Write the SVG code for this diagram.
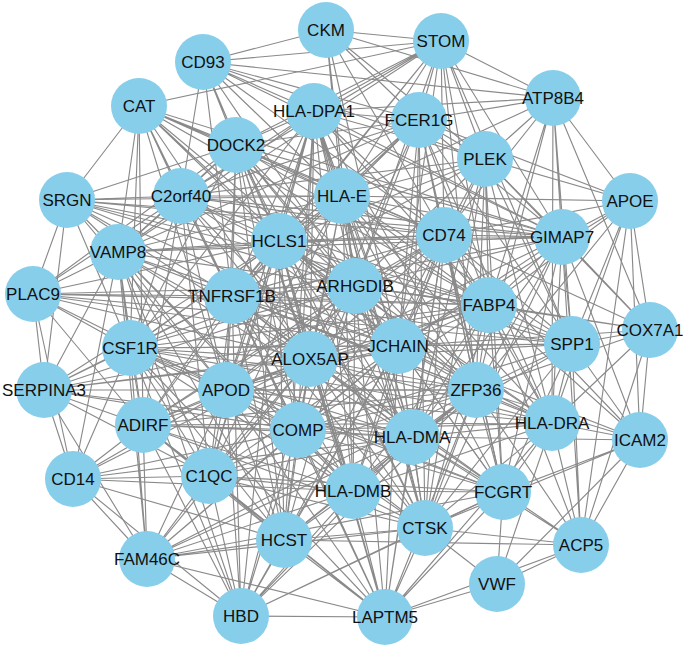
<svg xmlns="http://www.w3.org/2000/svg" width="683" height="647" viewBox="0 0 683 647">
<style>
.edges path{stroke:#8a8a8a;stroke-width:1.15;fill:none}
.node circle{fill:#87CEEB;stroke:none}
.node text{font-family:"Liberation Sans",Arial,sans-serif;font-size:17px;fill:#111;text-anchor:middle}
</style>
<rect width="683" height="647" fill="#fff"/>
<g id="connectors" class="edges">
<path d="M326 30L203 62M326 30L441 41M326 30L553 98M326 30L419 120M326 30L342 196M326 30L355 286M326 30L444 235M326 30L485 159M326 30L398 346"/>
<path d="M441 41L139 106M441 41L203 62M441 41L553 98M441 41L419 120M441 41L485 159M441 41L236 145M441 41L279 241M441 41L181 196M441 41L342 196M441 41L232 296M441 41L118 252M441 41L444 235M441 41L489 305M441 41L398 346M441 41L562 237M441 41L476 390M441 41L314 111M441 41L355 286M441 41L572 344"/>
<path d="M203 62L314 111M203 62L419 120M203 62L553 98M203 62L485 159M203 62L342 196M203 62L444 235M203 62L236 145M203 62L181 196M203 62L279 241M203 62L562 237M203 62L355 286M203 62L232 296"/>
<path d="M139 106L67 200M139 106L118 252M139 106L130 348M139 106L232 296M139 106L181 196M139 106L236 145M139 106L342 196M139 106L279 241M139 106L444 235M139 106L355 286M139 106L562 237M139 106L489 305M139 106L398 346M139 106L226 390M139 106L143 425M139 106L310 359"/>
<path d="M67 200L33 294M67 200L118 252M67 200L181 196M67 200L342 196M67 200L444 235M67 200L562 237M67 200L279 241M67 200L232 296M67 200L355 286M67 200L130 348M67 200L44 390M67 200L489 305M67 200L398 346M67 200L236 145M67 200L310 359M67 200L226 390"/>
<path d="M33 294L118 252M33 294L44 390M33 294L130 348M33 294L232 296M33 294L355 286M33 294L279 241M33 294L489 305M33 294L398 346M33 294L310 359M33 294L226 390M33 294L143 425M33 294L73 479M33 294L181 196M33 294L236 145M33 294L572 344"/>
<path d="M44 390L73 479M44 390L130 348M44 390L143 425M44 390L226 390M44 390L118 252M44 390L232 296M44 390L355 286M44 390L279 241M44 390L310 359M44 390L398 346M44 390L298 430M44 390L209 476M44 390L147 559M44 390L412 437M44 390L476 390M44 390L489 305"/>
<path d="M73 479L143 425M73 479L209 476M73 479L147 559M73 479L284 540M73 479L298 430M73 479L412 437M73 479L353 491M73 479L130 348M73 479L226 390M73 479L118 252M73 479L310 359M73 479L241 616"/>
<path d="M147 559L143 425M147 559L209 476M147 559L241 616M147 559L284 540M147 559L298 430M147 559L353 491M147 559L412 437M147 559L476 390M147 559L425 528M147 559L310 359M147 559L226 390M147 559L130 348M147 559L398 346M147 559L503 492M147 559L385 617M147 559L118 252"/>
<path d="M241 616L385 617M241 616L284 540M241 616L209 476M241 616L143 425M241 616L298 430M241 616L353 491M241 616L412 437M241 616L226 390M241 616L310 359M241 616L130 348M241 616L232 296M241 616L398 346M241 616L476 390M241 616L425 528M241 616L118 252M241 616L279 241M241 616L503 492"/>
<path d="M385 617L497 584M385 617L425 528M385 617L284 540M385 617L353 491M385 617L412 437M385 617L298 430M385 617L226 390M385 617L310 359M385 617L398 346M385 617L476 390M385 617L503 492M385 617L581 545M385 617L552 423M385 617L209 476M385 617L143 425M385 617L232 296M385 617L279 241M385 617L355 286M385 617L444 235M385 617L130 348"/>
<path d="M497 584L581 545M497 584L503 492M497 584L552 423M497 584L640 440M497 584L425 528"/>
<path d="M581 545L640 440M581 545L425 528M581 545L552 423M581 545L572 344M581 545L503 492M581 545L476 390M581 545L412 437M581 545L630 201M581 545L562 237M581 545L489 305M581 545L650 330M581 545L284 540"/>
<path d="M640 440L650 330M640 440L552 423M640 440L572 344M640 440L630 201M640 440L562 237M640 440L489 305M640 440L476 390M640 440L412 437M640 440L503 492M640 440L425 528M640 440L398 346M640 440L444 235"/>
<path d="M650 330L630 201M650 330L572 344M650 330L562 237M650 330L489 305M650 330L398 346M650 330L476 390M650 330L552 423M650 330L444 235M650 330L355 286M650 330L485 159"/>
<path d="M630 201L553 98M630 201L562 237M630 201L572 344M630 201L485 159M630 201L419 120M630 201L444 235M630 201L489 305M630 201L552 423M630 201L342 196M630 201L476 390M630 201L398 346"/>
<path d="M553 98L419 120M553 98L485 159M553 98L562 237M553 98L572 344M553 98L489 305M553 98L552 423M553 98L650 330M553 98L444 235M553 98L476 390M553 98L314 111M553 98L342 196"/>
<path d="M314 111L419 120M314 111L236 145M314 111L485 159M314 111L181 196M314 111L342 196M314 111L444 235M314 111L562 237M314 111L279 241M314 111L118 252M314 111L232 296M314 111L355 286M314 111L489 305M314 111L130 348M314 111L310 359M314 111L398 346M314 111L226 390M314 111L476 390M314 111L412 437M314 111L298 430M314 111L353 491M314 111L425 528M314 111L284 540M314 111L209 476"/>
<path d="M419 120L485 159M419 120L236 145M419 120L181 196M419 120L342 196M419 120L444 235M419 120L562 237M419 120L279 241M419 120L232 296M419 120L355 286M419 120L489 305M419 120L572 344M419 120L398 346M419 120L476 390M419 120L552 423M419 120L412 437M419 120L425 528M419 120L503 492M419 120L118 252M419 120L310 359"/>
<path d="M236 145L181 196M236 145L342 196M236 145L444 235M236 145L279 241M236 145L118 252M236 145L232 296M236 145L355 286M236 145L489 305M236 145L130 348M236 145L310 359M236 145L398 346M236 145L226 390M236 145L476 390M236 145L412 437M236 145L298 430M236 145L353 491M236 145L425 528M236 145L284 540M236 145L562 237"/>
<path d="M485 159L342 196M485 159L444 235M485 159L562 237M485 159L279 241M485 159L355 286M485 159L489 305M485 159L572 344M485 159L398 346M485 159L476 390M485 159L552 423M485 159L412 437M485 159L503 492M485 159L425 528M485 159L232 296M485 159L181 196"/>
<path d="M181 196L342 196M181 196L444 235M181 196L562 237M181 196L279 241M181 196L118 252M181 196L232 296M181 196L355 286M181 196L130 348M181 196L310 359M181 196L398 346M181 196L226 390M181 196L143 425M181 196L298 430M181 196L412 437M181 196L209 476M181 196L489 305"/>
<path d="M342 196L444 235M342 196L562 237M342 196L279 241M342 196L118 252M342 196L232 296M342 196L355 286M342 196L489 305M342 196L572 344M342 196L130 348M342 196L310 359M342 196L398 346M342 196L226 390M342 196L476 390M342 196L552 423M342 196L298 430M342 196L412 437M342 196L353 491M342 196L503 492M342 196L425 528M342 196L209 476"/>
<path d="M444 235L562 237M444 235L279 241M444 235L118 252M444 235L232 296M444 235L355 286M444 235L489 305M444 235L572 344M444 235L130 348M444 235L310 359M444 235L398 346M444 235L226 390M444 235L476 390M444 235L552 423M444 235L298 430M444 235L412 437M444 235L353 491M444 235L503 492M444 235L425 528M444 235L284 540M444 235L143 425"/>
<path d="M562 237L279 241M562 237L232 296M562 237L355 286M562 237L489 305M562 237L572 344M562 237L398 346M562 237L476 390M562 237L552 423M562 237L412 437M562 237L503 492M562 237L425 528M562 237L310 359M562 237L118 252"/>
<path d="M279 241L118 252M279 241L232 296M279 241L355 286M279 241L489 305M279 241L572 344M279 241L130 348M279 241L310 359M279 241L398 346M279 241L226 390M279 241L476 390M279 241L552 423M279 241L143 425M279 241L298 430M279 241L412 437M279 241L209 476M279 241L353 491M279 241L425 528M279 241L284 540"/>
<path d="M118 252L232 296M118 252L355 286M118 252L489 305M118 252L130 348M118 252L310 359M118 252L398 346M118 252L226 390M118 252L476 390M118 252L143 425M118 252L298 430M118 252L412 437M118 252L209 476M118 252L353 491M118 252L284 540"/>
<path d="M232 296L355 286M232 296L489 305M232 296L572 344M232 296L130 348M232 296L310 359M232 296L398 346M232 296L226 390M232 296L476 390M232 296L552 423M232 296L143 425M232 296L298 430M232 296L412 437M232 296L209 476M232 296L353 491M232 296L503 492M232 296L425 528M232 296L284 540"/>
<path d="M355 286L489 305M355 286L572 344M355 286L130 348M355 286L310 359M355 286L398 346M355 286L226 390M355 286L476 390M355 286L552 423M355 286L143 425M355 286L298 430M355 286L412 437M355 286L209 476M355 286L353 491M355 286L503 492M355 286L425 528M355 286L284 540"/>
<path d="M489 305L572 344M489 305L130 348M489 305L310 359M489 305L398 346M489 305L226 390M489 305L476 390M489 305L552 423M489 305L298 430M489 305L412 437M489 305L353 491M489 305L503 492M489 305L425 528"/>
<path d="M572 344L398 346M572 344L476 390M572 344L552 423M572 344L412 437M572 344L503 492M572 344L425 528M572 344L310 359M572 344L298 430"/>
<path d="M130 348L310 359M130 348L398 346M130 348L226 390M130 348L476 390M130 348L143 425M130 348L298 430M130 348L412 437M130 348L209 476M130 348L353 491M130 348L503 492M130 348L284 540M130 348L552 423M130 348L572 344"/>
<path d="M310 359L398 346M310 359L226 390M310 359L476 390M310 359L552 423M310 359L143 425M310 359L298 430M310 359L412 437M310 359L209 476M310 359L353 491M310 359L503 492M310 359L425 528M310 359L284 540"/>
<path d="M398 346L226 390M398 346L476 390M398 346L552 423M398 346L143 425M398 346L298 430M398 346L412 437M398 346L209 476M398 346L353 491M398 346L503 492M398 346L425 528M398 346L284 540"/>
<path d="M226 390L476 390M226 390L552 423M226 390L143 425M226 390L298 430M226 390L412 437M226 390L209 476M226 390L353 491M226 390L503 492M226 390L425 528M226 390L284 540"/>
<path d="M476 390L552 423M476 390L143 425M476 390L298 430M476 390L412 437M476 390L209 476M476 390L353 491M476 390L503 492M476 390L425 528M476 390L284 540"/>
<path d="M552 423L298 430M552 423L412 437M552 423L353 491M552 423L503 492M552 423L425 528M552 423L143 425"/>
<path d="M143 425L298 430M143 425L412 437M143 425L209 476M143 425L353 491M143 425L425 528M143 425L284 540"/>
<path d="M298 430L412 437M298 430L209 476M298 430L353 491M298 430L503 492M298 430L425 528M298 430L284 540"/>
<path d="M412 437L209 476M412 437L353 491M412 437L503 492M412 437L425 528M412 437L284 540"/>
<path d="M209 476L353 491M209 476L503 492M209 476L425 528M209 476L284 540"/>
<path d="M353 491L503 492M353 491L425 528M353 491L284 540M503 492L425 528M425 528L284 540"/>
</g>
<g id="n-CKM" class="node" transform="translate(326,30)"><circle r="28"/><text y="6">CKM</text></g>
<g id="n-STOM" class="node" transform="translate(441,41)"><circle r="28"/><text y="6">STOM</text></g>
<g id="n-CD93" class="node" transform="translate(203,62)"><circle r="28"/><text y="6">CD93</text></g>
<g id="n-ATP8B4" class="node" transform="translate(553,98)"><circle r="28"/><text y="6">ATP8B4</text></g>
<g id="n-CAT" class="node" transform="translate(139,106)"><circle r="28"/><text y="6">CAT</text></g>
<g id="n-HLA-DPA1" class="node" transform="translate(314,111)"><circle r="28"/><text y="6">HLA-DPA1</text></g>
<g id="n-FCER1G" class="node" transform="translate(419,120)"><circle r="28"/><text y="6">FCER1G</text></g>
<g id="n-DOCK2" class="node" transform="translate(236,145)"><circle r="28"/><text y="6">DOCK2</text></g>
<g id="n-PLEK" class="node" transform="translate(485,159)"><circle r="28"/><text y="6">PLEK</text></g>
<g id="n-APOE" class="node" transform="translate(630,201)"><circle r="28"/><text y="6">APOE</text></g>
<g id="n-SRGN" class="node" transform="translate(67,200)"><circle r="28"/><text y="6">SRGN</text></g>
<g id="n-C2orf40" class="node" transform="translate(181,196)"><circle r="28"/><text y="6">C2orf40</text></g>
<g id="n-HLA-E" class="node" transform="translate(342,196)"><circle r="28"/><text y="6">HLA-E</text></g>
<g id="n-CD74" class="node" transform="translate(444,235)"><circle r="28"/><text y="6">CD74</text></g>
<g id="n-GIMAP7" class="node" transform="translate(562,237)"><circle r="28"/><text y="6">GIMAP7</text></g>
<g id="n-HCLS1" class="node" transform="translate(279,241)"><circle r="28"/><text y="6">HCLS1</text></g>
<g id="n-VAMP8" class="node" transform="translate(118,252)"><circle r="28"/><text y="6">VAMP8</text></g>
<g id="n-PLAC9" class="node" transform="translate(33,294)"><circle r="28"/><text y="6">PLAC9</text></g>
<g id="n-TNFRSF1B" class="node" transform="translate(232,296)"><circle r="28"/><text y="6">TNFRSF1B</text></g>
<g id="n-ARHGDIB" class="node" transform="translate(355,286)"><circle r="28"/><text y="6">ARHGDIB</text></g>
<g id="n-FABP4" class="node" transform="translate(489,305)"><circle r="28"/><text y="6">FABP4</text></g>
<g id="n-COX7A1" class="node" transform="translate(650,330)"><circle r="28"/><text y="6">COX7A1</text></g>
<g id="n-SPP1" class="node" transform="translate(572,344)"><circle r="28"/><text y="6">SPP1</text></g>
<g id="n-CSF1R" class="node" transform="translate(130,348)"><circle r="28"/><text y="6">CSF1R</text></g>
<g id="n-ALOX5AP" class="node" transform="translate(310,359)"><circle r="28"/><text y="6">ALOX5AP</text></g>
<g id="n-JCHAIN" class="node" transform="translate(398,346)"><circle r="28"/><text y="6">JCHAIN</text></g>
<g id="n-SERPINA3" class="node" transform="translate(44,390)"><circle r="28"/><text y="6">SERPINA3</text></g>
<g id="n-APOD" class="node" transform="translate(226,390)"><circle r="28"/><text y="6">APOD</text></g>
<g id="n-ZFP36" class="node" transform="translate(476,390)"><circle r="28"/><text y="6">ZFP36</text></g>
<g id="n-HLA-DRA" class="node" transform="translate(552,423)"><circle r="28"/><text y="6">HLA-DRA</text></g>
<g id="n-ADIRF" class="node" transform="translate(143,425)"><circle r="28"/><text y="6">ADIRF</text></g>
<g id="n-COMP" class="node" transform="translate(298,430)"><circle r="28"/><text y="6">COMP</text></g>
<g id="n-HLA-DMA" class="node" transform="translate(412,437)"><circle r="28"/><text y="6">HLA-DMA</text></g>
<g id="n-ICAM2" class="node" transform="translate(640,440)"><circle r="28"/><text y="6">ICAM2</text></g>
<g id="n-CD14" class="node" transform="translate(73,479)"><circle r="28"/><text y="6">CD14</text></g>
<g id="n-C1QC" class="node" transform="translate(209,476)"><circle r="28"/><text y="6">C1QC</text></g>
<g id="n-HLA-DMB" class="node" transform="translate(353,491)"><circle r="28"/><text y="6">HLA-DMB</text></g>
<g id="n-FCGRT" class="node" transform="translate(503,492)"><circle r="28"/><text y="6">FCGRT</text></g>
<g id="n-CTSK" class="node" transform="translate(425,528)"><circle r="28"/><text y="6">CTSK</text></g>
<g id="n-HCST" class="node" transform="translate(284,540)"><circle r="28"/><text y="6">HCST</text></g>
<g id="n-ACP5" class="node" transform="translate(581,545)"><circle r="28"/><text y="6">ACP5</text></g>
<g id="n-FAM46C" class="node" transform="translate(147,559)"><circle r="28"/><text y="6">FAM46C</text></g>
<g id="n-VWF" class="node" transform="translate(497,584)"><circle r="28"/><text y="6">VWF</text></g>
<g id="n-HBD" class="node" transform="translate(241,616)"><circle r="28"/><text y="6">HBD</text></g>
<g id="n-LAPTM5" class="node" transform="translate(385,617)"><circle r="28"/><text y="6">LAPTM5</text></g>
</svg>
